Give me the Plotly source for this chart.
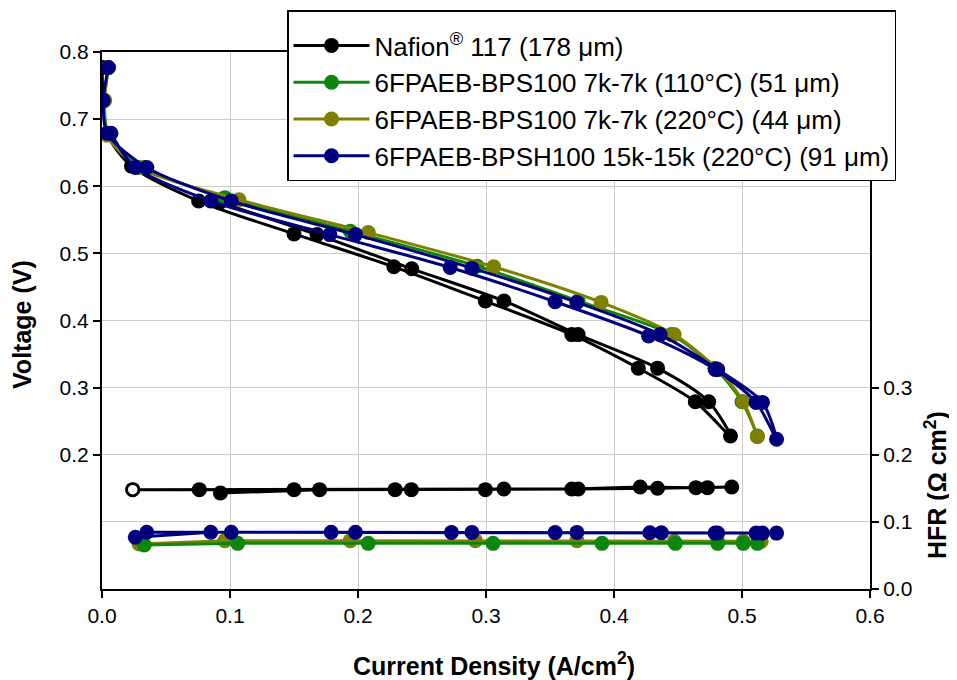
import plotly.graph_objects as go

# ---------------- data ----------------
series_names = [
    "Nafion<sup>®</sup> 117 (178 μm)",
    "6FPAEB-BPS100 7k-7k (110°C) (51 μm)",
    "6FPAEB-BPS100 7k-7k (220°C) (44 μm)",
    "6FPAEB-BPSH100 15k-15k (220°C) (91 μm)",
]

# Nafion 117 : polarization (down sweep then back up)
nafion_current = [0.000, 0.001, 0.004, 0.023, 0.0755, 0.150, 0.228, 0.2995, 0.367, 0.419,
                  0.4635, 0.491, 0.474, 0.434, 0.372, 0.314, 0.242, 0.168, 0.092]
nafion_voltage = [0.777, 0.728, 0.678, 0.630, 0.578, 0.529, 0.480, 0.429, 0.379, 0.329,
                  0.279, 0.228, 0.279, 0.329, 0.379, 0.429, 0.477, 0.528, 0.576]
nafion_hfr_current = [0.024, 0.076, 0.150, 0.229, 0.2995, 0.367, 0.4205, 0.464, 0.492,
                      0.473, 0.434, 0.372, 0.314, 0.2417, 0.170, 0.0925]
nafion_hfr = [0.148, 0.148, 0.148, 0.148, 0.148, 0.149, 0.152, 0.151, 0.152,
              0.151, 0.150, 0.149, 0.149, 0.148, 0.148, 0.143]

# 6FPAEB-BPS100 7k-7k (110 C)
bps110_current = [0.005, 0.002, 0.005, 0.033, 0.096, 0.194, 0.293, 0.372, 0.445, 0.479, 0.500, 0.512]
bps110_voltage = [0.777, 0.728, 0.677, 0.628, 0.583, 0.533, 0.481, 0.429, 0.379, 0.329, 0.279, 0.228]
bps110_hfr_current = [0.033, 0.106, 0.208, 0.3055, 0.3906, 0.448, 0.481, 0.501, 0.512]
bps110_hfr = [0.0657, 0.068, 0.068, 0.068, 0.068, 0.068, 0.068, 0.068, 0.068]

# 6FPAEB-BPS100 7k-7k (220 C)
bps220_current = [0.005, 0.002, 0.004, 0.029, 0.107, 0.208, 0.306, 0.390, 0.447, 0.481, 0.501, 0.512]
bps220_voltage = [0.777, 0.728, 0.676, 0.628, 0.580, 0.531, 0.480, 0.427, 0.379, 0.327, 0.279, 0.227]
bps220_hfr_current = [0.029, 0.096, 0.194, 0.2917, 0.371, 0.447, 0.481, 0.501, 0.515]
bps220_hfr = [0.067, 0.072, 0.072, 0.072, 0.072, 0.071, 0.071, 0.071, 0.071]

# 6FPAEB-BPSH100 15k-15k (220 C)
bpsh_current = [0.005, 0.001, 0.004, 0.035, 0.101, 0.198, 0.289, 0.371, 0.436, 0.481, 0.516,
                0.527, 0.511, 0.479, 0.427, 0.354, 0.272, 0.178, 0.085, 0.026, 0.007]
bpsh_voltage = [0.777, 0.728, 0.679, 0.628, 0.578, 0.528, 0.478, 0.427, 0.379, 0.327, 0.278,
                0.223, 0.278, 0.327, 0.377, 0.428, 0.479, 0.528, 0.578, 0.628, 0.679]
bpsh_hfr_current = [0.035, 0.101, 0.198, 0.289, 0.371, 0.437, 0.481, 0.516, 0.527,
                    0.511, 0.479, 0.428, 0.354, 0.273, 0.179, 0.085, 0.026]
bpsh_hfr = [0.0846, 0.0846, 0.0846, 0.0843, 0.0843, 0.0838, 0.0835, 0.0833, 0.0833,
            0.0833, 0.0835, 0.0838, 0.0840, 0.0843, 0.0846, 0.0846, 0.077]

x_ticks = [0.0, 0.1, 0.2, 0.3, 0.4, 0.5, 0.6]
x_tick_labels = ["0.0", "0.1", "0.2", "0.3", "0.4", "0.5", "0.6"]
v_ticks = [0.2, 0.3, 0.4, 0.5, 0.6, 0.7, 0.8]
v_tick_labels = ["0.2", "0.3", "0.4", "0.5", "0.6", "0.7", "0.8"]
hfr_ticks = [0.0, 0.1, 0.2, 0.3]
hfr_tick_labels = ["0.0", "0.1", "0.2", "0.3"]

# ---------------- style ----------------
FONT = "Liberation Sans, Arial, sans-serif"
C_BLACK = "#000000"
C_GREEN = "#0b870b"
C_OLIVE = "#808000"
C_NAVY = "#00007f"
MS = 15
LW = 3

fig = go.Figure()

def pol(x, y, name, color, rank, show=True):
    return go.Scatter(x=x, y=y, name=name, mode="lines+markers",
                      line=dict(color=color, width=LW, shape="spline", smoothing=0.8),
                      marker=dict(color=color, size=MS, line=dict(width=0)),
                      legendrank=rank, showlegend=show, yaxis="y")

def hfr(x, y, color):
    return go.Scatter(x=x, y=y, mode="lines+markers", showlegend=False,
                      line=dict(color=color, width=LW),
                      marker=dict(color=color, size=MS, line=dict(width=0)),
                      yaxis="y2")

open_marker = dict(color="white", size=12, line=dict(color=C_BLACK, width=2.5))

# Nafion
fig.add_trace(pol(nafion_current, nafion_voltage, series_names[0], C_BLACK, 1))
fig.add_trace(hfr(nafion_hfr_current, nafion_hfr, C_BLACK))
fig.add_trace(go.Scatter(x=nafion_hfr_current[:1], y=nafion_hfr[:1], mode="markers",
                         showlegend=False, yaxis="y2", marker=open_marker))
# BPS100 110
fig.add_trace(pol(bps110_current, bps110_voltage, series_names[1], C_GREEN, 2))
# BPS100 220
fig.add_trace(pol(bps220_current, bps220_voltage, series_names[2], C_OLIVE, 3))
fig.add_trace(hfr(bps220_hfr_current, bps220_hfr, C_OLIVE))
fig.add_trace(hfr(bps110_hfr_current, bps110_hfr, C_GREEN))
# Nafion open-circle first point (drawn above the membranes)
fig.add_trace(go.Scatter(x=nafion_current[:1], y=nafion_voltage[:1], mode="markers",
                         showlegend=False, yaxis="y", marker=open_marker))
# BPSH100
fig.add_trace(pol(bpsh_current, bpsh_voltage, series_names[3], C_NAVY, 4))
fig.add_trace(hfr(bpsh_hfr_current, bpsh_hfr, C_NAVY))

axis_common = dict(showline=True, linecolor="black", linewidth=2, ticks="outside",
                   ticklen=7, tickwidth=1.5, tickcolor="black", zeroline=False,
                   tickfont=dict(family=FONT, size=21, color="black"),
                   gridcolor="#cccccc", gridwidth=1)

TITLE_FONT = dict(family=FONT, size=25, color="black")

# the page adds an 8 px body margin; the figure is sized so the plot area lands
# where the reference has it
fig.update_layout(
    width=949, height=672,
    margin=dict(l=94, r=87, t=44, b=91, autoexpand=False),
    paper_bgcolor="white", plot_bgcolor="white",
    font=dict(family=FONT, color="black"),
    xaxis=dict(range=[0, 0.6], tickvals=x_ticks, ticktext=x_tick_labels,
               mirror=True, showgrid=True, **axis_common),
    yaxis=dict(range=[0, 0.8], tickvals=v_ticks, ticktext=v_tick_labels,
               showgrid=True, **axis_common),
    yaxis2=dict(range=[0, 0.8], tickvals=hfr_ticks, ticktext=hfr_tick_labels,
                overlaying="y", side="right", showgrid=True, **axis_common),
    legend=dict(x=0.2409, y=1.078, xanchor="left", yanchor="top",
                bgcolor="white", bordercolor="black", borderwidth=1.5,
                font=dict(family=FONT, size=26, color="black"),
                title=dict(text=" ", font=dict(size=8)),
                itemwidth=76, tracegroupgap=0, traceorder="normal"),
    annotations=[
        dict(text="<b>Voltage (V)</b>", xref="paper", yref="paper", x=-0.1042, y=0.4935,
             xanchor="center", yanchor="middle",
             textangle=-90, showarrow=False, font=TITLE_FONT),
        dict(text="<b>HFR (Ω cm<sup>2</sup>)</b>", xref="paper", yref="paper",
             x=1.0859, y=0.1937, xanchor="center", yanchor="middle",
             textangle=-90, showarrow=False, font=TITLE_FONT),
        dict(text="<b>Current Density (A/cm<sup>2</sup>)</b>", xref="paper", yref="paper",
             x=0.5104, y=-0.1397, xanchor="center", yanchor="middle",
             showarrow=False, font=TITLE_FONT),
    ],
)

fig.write_html("out.html")
